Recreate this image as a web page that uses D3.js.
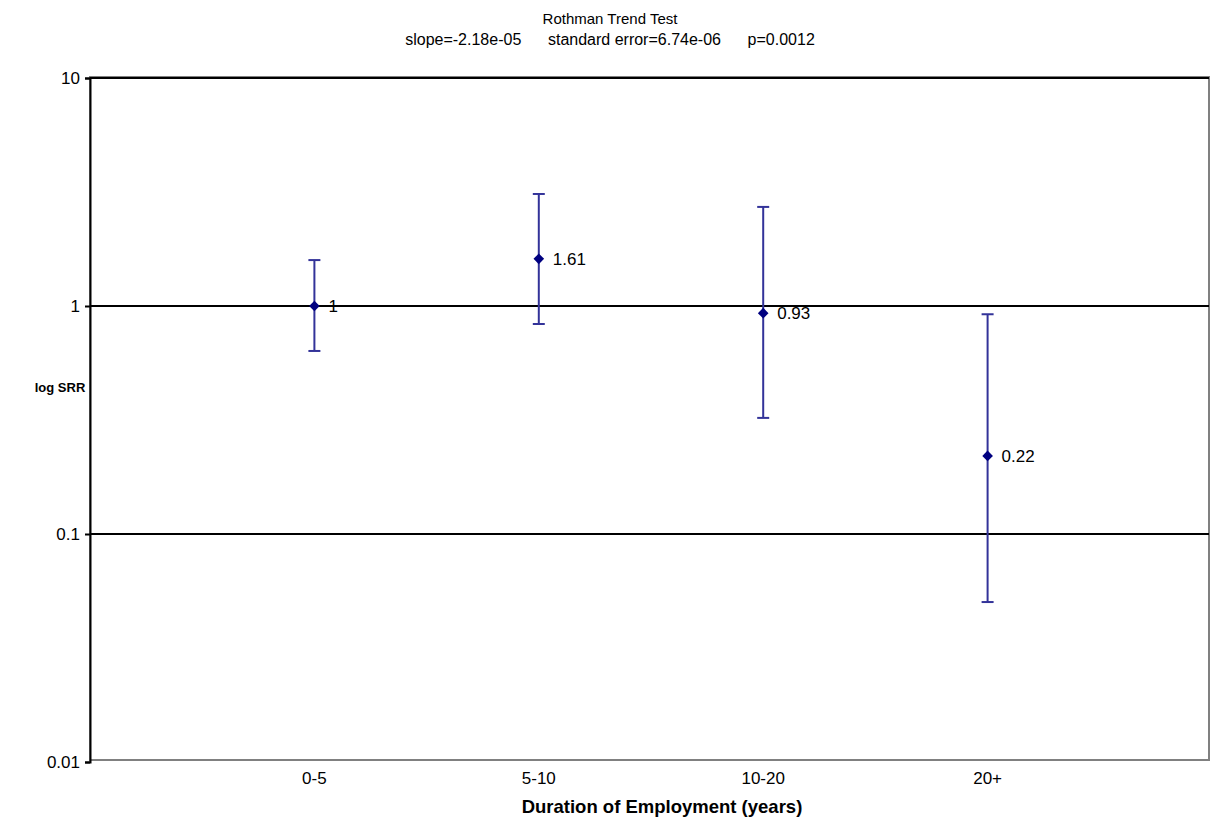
<!DOCTYPE html>
<html>
<head>
<meta charset="utf-8">
<script src="https://cdn.jsdelivr.net/npm/d3@7"></script>
<style>
  body { margin: 0; background: #fff; }
  text { font-family: "Liberation Sans", Arial, sans-serif; }
</style>
</head>
<body>
<div id="chart"></div>
<script>
// Data
const categories = ["0-5", "5-10", "10-20", "20+"];
const srr = [1, 1.61, 0.93, 0.22];
const upper = [1.59, 3.1, 2.72, 0.92];
const lower = [0.635, 0.834, 0.323, 0.0503];
const yTicks = [0.01, 0.1, 1, 10];

const W = 1210, H = 823;
const plotLeft = 90, plotRight = 1209, plotTop = 78, plotBottom = 762;

const svg = d3.select("#chart").append("svg")
    .attr("width", W)
    .attr("height", H);

// scales
const x = d3.scaleLinear().domain([0, categories.length + 1]).range([plotLeft, 1212]);
const y = d3.scaleLog().domain([0.01, 10]).range([plotBottom, plotTop]);

// plot border (grey, Excel style)
svg.append("rect")
    .attr("x", plotLeft).attr("y", plotTop - 1)
    .attr("width", plotRight - plotLeft).attr("height", plotBottom - plotTop - 1)
    .attr("fill", "none")
    .attr("stroke", "#808080")
    .attr("stroke-width", 2);

// gridlines
svg.append("g")
    .selectAll("line")
    .data(yTicks.filter(d => d > 0.01))
    .join("line")
    .attr("x1", plotLeft).attr("x2", plotRight)
    .attr("y1", d => y(d)).attr("y2", d => y(d))
    .attr("stroke", "#000")
    .attr("stroke-width", 2);

// y axis
const yAxis = svg.append("g")
    .attr("transform", `translate(${plotLeft},0)`)
    .call(d3.axisLeft(y).tickValues(yTicks).tickFormat(d => String(d)).tickSize(5).tickPadding(5));
yAxis.select(".domain").attr("stroke", "#000").attr("stroke-width", 2);
yAxis.selectAll(".tick line").attr("stroke", "#000").attr("stroke-width", 2);
yAxis.selectAll(".tick text")
    .style("font-size", "17px")
    .attr("fill", "#000")
    .attr("font-family", "Liberation Sans, Arial, sans-serif");

// x labels
svg.append("g")
    .selectAll("text")
    .data(categories)
    .join("text")
    .attr("x", (d, i) => x(i + 1))
    .attr("y", 784)
    .attr("text-anchor", "middle")
    .style("font-size", "17px")
    .text(d => d);

// axis titles
svg.append("text")
    .attr("x", 662).attr("y", 813)
    .attr("text-anchor", "middle")
    .style("font-size", "18.5px")
    .style("font-weight", "bold")
    .text("Duration of Employment (years)");

svg.append("text")
    .attr("x", 60).attr("y", 392)
    .attr("text-anchor", "middle")
    .style("font-size", "13px")
    .style("font-weight", "bold")
    .text("log SRR");

// title
svg.append("text")
    .attr("x", 610).attr("y", 24)
    .attr("text-anchor", "middle")
    .style("font-size", "15px")
    .text("Rothman Trend Test");
svg.append("text")
    .attr("x", 610).attr("y", 45)
    .attr("text-anchor", "middle")
    .style("font-size", "16px")
    .style("white-space", "pre")
    .text("slope=-2.18e-05      standard error=6.74e-06      p=0.0012");

// error bars
const barColor = "#333399";
const bars = svg.append("g")
    .selectAll("g")
    .data(categories.map((c, i) => ({ c, i, v: srr[i], hi: upper[i], lo: lower[i] })))
    .join("g");

bars.append("line")
    .attr("x1", d => x(d.i + 1)).attr("x2", d => x(d.i + 1))
    .attr("y1", d => y(d.hi)).attr("y2", d => y(d.lo))
    .attr("stroke", barColor).attr("stroke-width", 2);
bars.append("line")
    .attr("x1", d => x(d.i + 1) - 6).attr("x2", d => x(d.i + 1) + 6)
    .attr("y1", d => y(d.hi)).attr("y2", d => y(d.hi))
    .attr("stroke", barColor).attr("stroke-width", 2);
bars.append("line")
    .attr("x1", d => x(d.i + 1) - 6).attr("x2", d => x(d.i + 1) + 6)
    .attr("y1", d => y(d.lo)).attr("y2", d => y(d.lo))
    .attr("stroke", barColor).attr("stroke-width", 2);

// diamonds
bars.append("path")
    .attr("d", d3.symbol().type(d3.symbolDiamond2).size(72))
    .attr("transform", d => `translate(${x(d.i + 1)},${y(d.v)})`)
    .attr("fill", "#000080");

// value labels
bars.append("text")
    .attr("x", d => x(d.i + 1) + 14)
    .attr("y", d => y(d.v) + 6)
    .style("font-size", "17px")
    .text(d => String(d.v));
</script>
</body>
</html>
